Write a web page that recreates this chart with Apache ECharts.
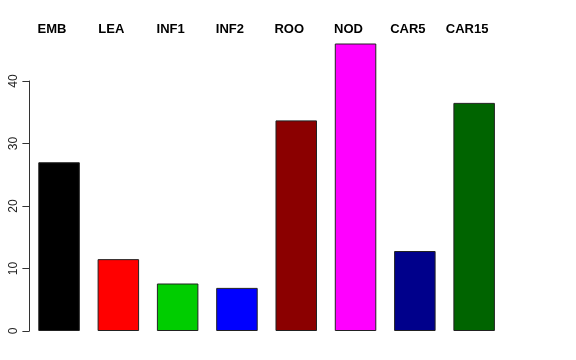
<!DOCTYPE html>
<html>
<head>
<meta charset="utf-8">
<script src="https://cdn.jsdelivr.net/npm/echarts@6/dist/echarts.min.js"></script>
<style>
html,body{margin:0;padding:0;background:#fff;}
#chart{width:576px;height:360px;}
</style>
</head>
<body>
<div id="chart"></div>
<script>
var categories = ['EMB', 'LEA', 'INF1', 'INF2', 'ROO', 'NOD', 'CAR5', 'CAR15'];
var values = [27.0, 11.5, 7.6, 6.9, 33.7, 46.0, 12.8, 36.5];
var barColors = ['#000000', '#FF0000', '#00CD00', '#0000FF', '#8B0000', '#FF00FF', '#00008B', '#006400'];
var yTicks = [0, 10, 20, 30, 40];

var font = '"Liberation Sans", Arial, Helvetica, sans-serif';
var chart = echarts.init(document.getElementById('chart'), null, {renderer: 'canvas'});
var gridLeft = 29.4, gridRight = 72.2;
var option = {
  animation: false,
  backgroundColor: '#ffffff',
  grid: [
    {left: gridLeft, right: gridRight, top: 37.25, bottom: 29},
    {left: gridLeft, right: gridRight, top: 81, bottom: 29}
  ],
  xAxis: [
    {type: 'category', gridIndex: 0, data: categories, show: false},
    {type: 'category', gridIndex: 0, position: 'top', data: categories,
     axisLine: {show: false}, axisTick: {show: false},
     axisLabel: {show: true, margin: 1, fontFamily: font, fontSize: 13, fontWeight: 'bold',
                 color: '#000', padding: [0, 14, 0, 0]}},
    {type: 'category', gridIndex: 1, data: categories, show: false}
  ],
  yAxis: [
    {type: 'value', gridIndex: 0, min: 0, max: 47, show: false},
    {type: 'value', gridIndex: 1, min: yTicks[0], max: yTicks[yTicks.length - 1], interval: 10,
     axisLine: {show: true, lineStyle: {color: '#333', width: 1}},
     axisTick: {show: true, length: 7, lineStyle: {color: '#333', width: 1}},
     splitLine: {show: false},
     axisLabel: {show: true, rotate: 90, margin: 10, fontFamily: font, fontSize: 12, color: '#222'}}
  ],
  series: [{
    type: 'bar',
    xAxisIndex: 0,
    yAxisIndex: 0,
    barWidth: '70%',
    data: values.map(function (v, i) {
      return {value: v, itemStyle: {color: barColors[i], borderColor: '#222', borderWidth: 1}};
    })
  }]
};
chart.setOption(option);
</script>
</body>
</html>
